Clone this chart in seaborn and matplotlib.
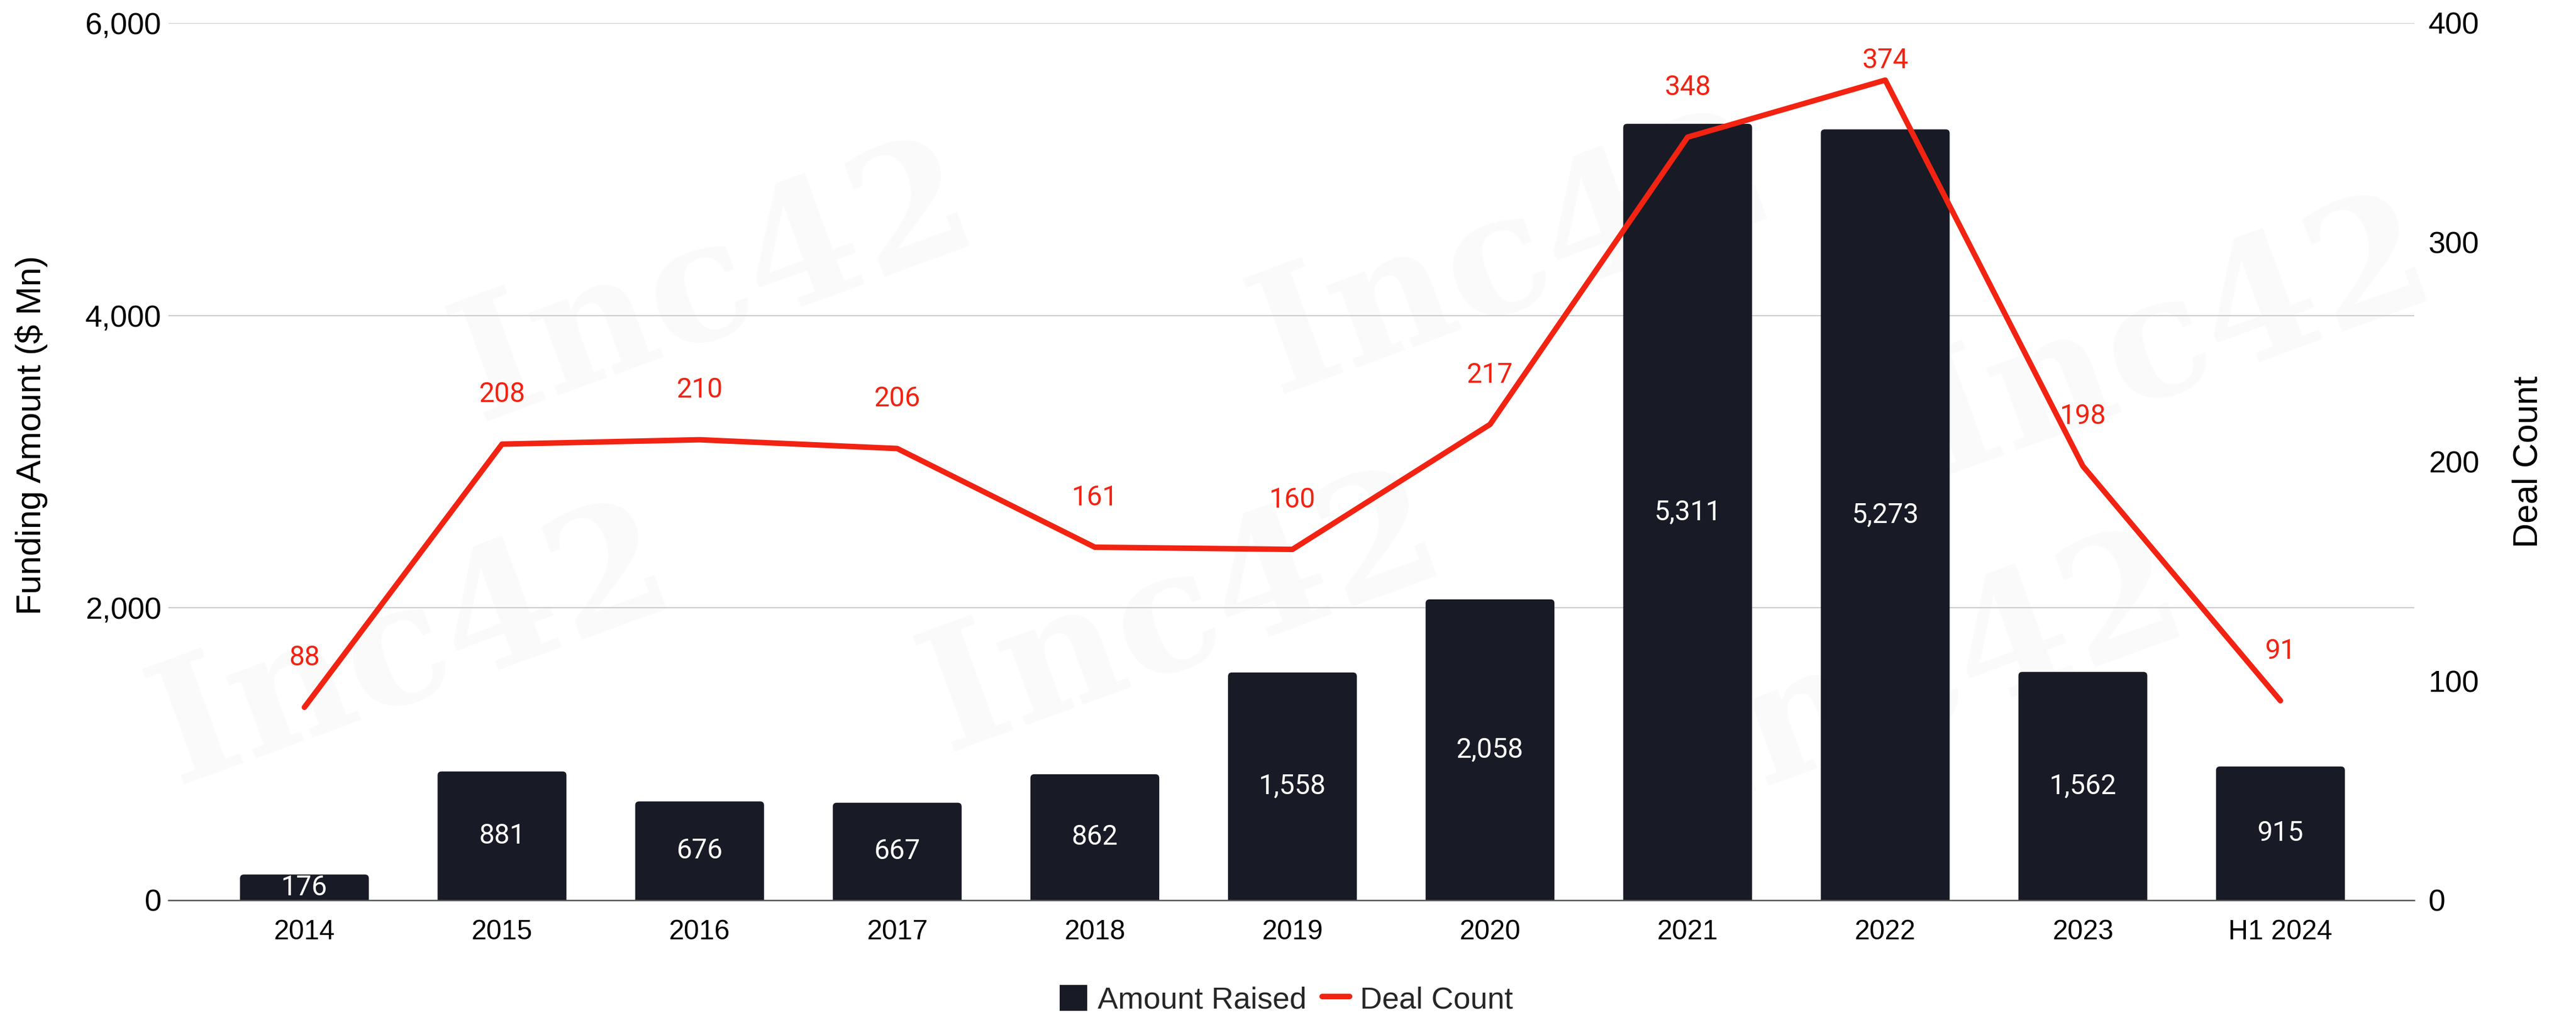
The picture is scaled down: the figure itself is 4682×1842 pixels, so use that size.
import numpy as np
import pandas as pd
import matplotlib
matplotlib.use("Agg")
import matplotlib.pyplot as plt
import seaborn as sns
from matplotlib.patches import FancyBboxPatch, Patch
from matplotlib.lines import Line2D
from matplotlib.ticker import FuncFormatter

# ---- data ----
periods = ["2014", "2015", "2016", "2017", "2018", "2019",
           "2020", "2021", "2022", "2023", "H1 2024"]
amount_raised = [176, 881, 676, 667, 862, 1558, 2058, 5311, 5273, 1562, 915]
deal_count = [88, 208, 210, 206, 161, 160, 217, 348, 374, 198, 91]
left_ticks = [0, 2000, 4000, 6000]
right_ticks = [0, 100, 200, 300, 400]

BAR = "#181a25"
RED = "#f22312"

sns.set_theme(style="white")
plt.rcParams["font.family"] = ["Liberation Sans", "DejaVu Sans"]

fig = plt.figure(figsize=(23.41, 9.21), dpi=200)
fig.patch.set_facecolor("white")

# faint brand watermark behind the plot
watermark_spots = [(1300, 520), (2750, 470), (3950, 620),
                   (750, 1180), (2150, 1120), (3500, 1230)]
for px, py in watermark_spots:
    fig.text(px / 4682, 1 - py / 1842, "Inc42", rotation=20,
             fontsize=110, family="DejaVu Serif", weight="bold",
             color="#fafafa", ha="center", va="center", zorder=-1)

ax = fig.add_axes([0.0654, 0.1113, 0.8718, 0.8659])
ax.set_facecolor("none")

df = pd.DataFrame({"Period": periods, "Amount": amount_raised, "Deals": deal_count})

sns.barplot(data=df, x="Period", y="Amount", color=BAR, saturation=1,
            width=0.652, ax=ax, zorder=2)

ax.set_xlim(-0.688, 10.677)
ax.set_ylim(0, 6000)
ax.set_yticks(left_ticks)
ax.yaxis.set_major_formatter(FuncFormatter(lambda v, p: f"{int(v):,}"))

# value labels inside the bars
bars = ax.containers[0]
ax.bar_label(bars, labels=[f"{v:,}" for v in amount_raised], label_type="center",
             color="white", fontsize=18, family="Roboto", zorder=4)

# swap the plain rectangles for ones with softly rounded top corners
fig.canvas.draw()
p0 = ax.transData.transform((0, 0))
p1 = ax.transData.transform((1, 1))
rx = 7 / (p1[0] - p0[0])
ry = 7 / (p1[1] - p0[1])
for rect in bars:
    x, w, h = rect.get_x(), rect.get_width(), rect.get_height()
    rect.set_visible(False)
    ax.add_patch(FancyBboxPatch((x, -ry), w, h + ry,
                                boxstyle=f"round,pad=0,rounding_size={rx}",
                                mutation_aspect=ry / rx,
                                facecolor=BAR, edgecolor="none", zorder=2))

ax.yaxis.grid(True, color="#cccccc", lw=0.8)
ax.xaxis.grid(False)
ax.set_axisbelow(True)
for s in ["left", "right", "top"]:
    ax.spines[s].set_visible(False)
ax.spines["bottom"].set_color("#555555")
ax.spines["bottom"].set_linewidth(0.9)
ax.tick_params(axis="x", labelsize=18, pad=12.6, length=0, colors="black")
ax.tick_params(axis="y", labelsize=20, pad=4.7, length=0, colors="black")
ax.set_xlabel("")
ax.set_ylabel("Funding Amount ($ Mn)", fontsize=22.5, color="black", va="center")
ax.yaxis.set_label_coords(-0.061, 0.53)

# deal count on the secondary axis
ax2 = ax.twinx()
ax2.set_facecolor("none")
sns.lineplot(x=np.arange(len(periods)), y=deal_count, color=RED, lw=3.6,
             ax=ax2, zorder=3)
ax2.set_xlim(-0.688, 10.677)
ax2.set_ylim(0, 400)
ax2.set_yticks(right_ticks)
for s in ax2.spines.values():
    s.set_visible(False)
ax2.grid(False)
ax2.tick_params(axis="y", labelsize=20, pad=9.4, length=0, colors="black")
ax2.set_ylabel("Deal Count", fontsize=22.5, color="black", va="center")
ax2.yaxis.set_label_coords(1.0507, 0.5)

for i, v in enumerate(deal_count):
    ax2.text(i, min(v + 22.6, 383), str(v), ha="center", va="center",
             color=RED, fontsize=18, family="Roboto", zorder=5)

handles = [Patch(facecolor=BAR, edgecolor="none", label="Amount Raised"),
           Line2D([0], [0], color=RED, lw=3.6, label="Deal Count")]
fig.legend(handles=handles, loc="center", bbox_to_anchor=(0.4994, 0.013),
           ncol=2, frameon=False, fontsize=20, handlelength=0.9,
           handleheight=0.95, handletextpad=0.35, columnspacing=0.5)

fig.savefig("out.png", dpi=200, facecolor="white")
